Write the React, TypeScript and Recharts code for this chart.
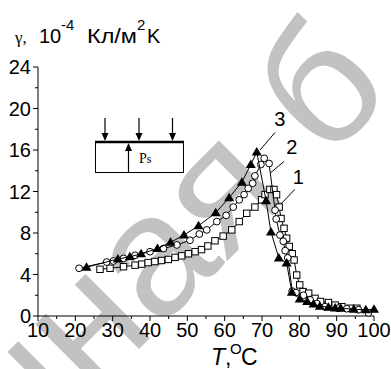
import React from 'react';
import { ComposedChart, Scatter, XAxis, YAxis, ReferenceLine, ReferenceDot } from 'recharts';

// curve 1 (open squares)
const T1 = [26.6, 29.3, 32.9, 36.0, 37.8, 39.5, 41.3, 43.1, 44.9, 46.7, 48.5, 50.3, 52.1, 53.8, 55.5, 57.4, 59.6, 61.9, 63.9, 65.9, 68.1, 69.9, 70.8, 72.1, 73.2, 73.9, 74.6, 75.1, 75.9, 76.6, 77.3, 78.1, 78.6, 79.3, 80.1, 81.0, 82.5, 84.2, 85.7, 87.8, 89.6, 91.4, 93.6, 95.4];
const G1 = [4.5, 4.6, 4.75, 4.9, 5.0, 5.15, 5.25, 5.35, 5.45, 5.65, 5.8, 6.0, 6.2, 6.4, 6.75, 7.25, 7.7, 8.3, 9.1, 9.9, 10.5, 11.2, 11.7, 12.2, 12.2, 11.7, 10.5, 9.4, 8.45, 7.5, 6.7, 6.0, 5.4, 3.95, 3.0, 2.35, 2.2, 1.7, 1.4, 1.3, 1.05, 0.9, 0.75, 0.75];

// curve 2 (open circles)
const T2 = [21, 28.4, 30.2, 32.9, 36, 40, 43.6, 47.2, 50.7, 53.2, 55.2, 57.9, 60.4, 62.3, 63.9, 65.2, 66.3, 67.5, 68.1, 69.7, 70.6, 71.9, 73.5, 73.8, 74.8, 75.7, 76.2, 76.9, 78.1, 79.1, 81.1, 82.9, 84.7, 86.9, 90.4, 92.7, 95.8, 98.5];
const G2 = [4.6, 5.2, 5.3, 5.55, 5.85, 6.2, 6.5, 6.85, 7.3, 7.9, 8.3, 9.1, 9.7, 10.5, 11.2, 11.7, 12.3, 12.8, 13.5, 14.6, 15.2, 14.7, 10.2, 9.35, 7.8, 7.2, 6.3, 5.6, 2.4, 2.25, 2.0, 1.55, 1.2, 0.9, 0.75, 0.7, 0.6, 0.3];

// curve 3 (filled triangles)
const T3 = [23, 31.4, 34.6, 37.6, 42, 45.5, 49.1, 53, 57.6, 61.2, 64.6, 67, 68.6, 71.1, 72.4, 74.5, 76.6, 78, 80.1, 82.1, 83.8, 85.5, 87.8, 89.6, 91.1, 94.6, 97.8, 100];
const G3 = [4.7, 5.5, 5.7, 6.0, 6.5, 7.1, 7.8, 8.7, 9.95, 11.4, 12.9, 14.6, 15.8, 11.1, 8.1, 5.6, 5.1, 2.3, 1.65, 1.4, 1.15, 0.95, 0.85, 0.78, 0.74, 0.65, 0.6, 0.65];

const xTicks = [10, 15, 20, 25, 30, 35, 40, 45, 50, 55, 60, 65, 70, 75, 80, 85, 90, 95, 100];
const yTicks = [0, 2, 4, 6, 8, 10, 12, 14, 16, 18, 20, 22, 24];

// curve labels with leader lines (data coords)
const labels = [
  { text: '1', at: [79.7, 13.4], from: [74.8, 10.7], to: [78.8, 12.2] },
  { text: '2', at: [78.0, 16.3], from: [72.3, 13.8], to: [75.9, 14.9] },
  { text: '3', at: [74.8, 19.0], from: [69.5, 16.0], to: [73.5, 17.7] },
];

const SANS = 'Liberation Sans, Arial, sans-serif';
const SERIF = 'Liberation Serif, Times New Roman, serif';

const pts = (t: number[], g: number[]) => t.map((v, i) => ({ t: v, g: g[i] }));

const Square = (p: any) => (
  <rect x={p.cx - 3.2} y={p.cy - 3.2} width={6.4} height={6.4} fill="#fff" stroke="#000" strokeWidth={1} />
);
const Circle = (p: any) => <circle cx={p.cx} cy={p.cy} r={3.4} fill="#fff" stroke="#000" strokeWidth={1} />;
const Triangle = (p: any) => (
  <path d={`M${p.cx},${p.cy - 5}L${p.cx + 5},${p.cy + 3.5}L${p.cx - 5},${p.cy + 3.5}Z`} fill="#000" />
);

const YTick = ({ x, y, payload }: any) => {
  const major = payload.value % 4 === 0;
  return (
    <g>
      <line x1={x - (major ? 5 : 3)} x2={x} y1={y} y2={y} stroke="#000" />
      {major && (
        <text x={x - 7} y={y + 7} textAnchor="end" fontSize={20} fontFamily={SANS} fill="#000">
          {payload.value}
        </text>
      )}
    </g>
  );
};

const XTick = ({ x, y, payload }: any) => {
  const major = payload.value % 10 === 0;
  return (
    <g>
      <line x1={x} x2={x} y1={y} y2={y + (major ? 5 : 3)} stroke="#000" />
      {major && (
        <text x={x} y={y + 21} textAnchor="middle" fontSize={20} fontFamily={SANS} fill="#000">
          {payload.value}
        </text>
      )}
    </g>
  );
};

const Arrow = ({ x, y1, y2 }: { x: number; y1: number; y2: number }) => {
  const dir = y2 > y1 ? 1 : -1;
  return (
    <g>
      <line x1={x} x2={x} y1={y1} y2={y2 - dir * 6} stroke="#000" strokeWidth={1.2} />
      <path d={`M${x - 3.5},${y2 - dir * 8}L${x + 3.5},${y2 - dir * 8}L${x},${y2}Z`} fill="#000" />
    </g>
  );
};

export default function App() {
  return (
    <div style={{ position: 'absolute', left: 0, top: 0, width: 391, height: 369, background: '#fff' }}>
      <svg style={{ position: 'absolute', left: 0, top: 0 }} width={391} height={369}>
        <text x={395} y={93} transform="rotate(-45 395 93)" textAnchor="end" fontSize={172} fontFamily={SANS} fill="#c2c2c2">
          нная б
        </text>
      </svg>
      <div style={{ position: 'absolute', left: 0, top: 0 }}>
        <ComposedChart width={391} height={369} margin={{ top: 67, right: 17, bottom: 0, left: 0 }}>
          <XAxis
            type="number"
            dataKey="t"
            domain={[10, 100]}
            ticks={xTicks}
            interval={0}
            height={53}
            tickSize={0}
            tickMargin={0}
            tickLine={false}
            axisLine={{ stroke: '#000', strokeWidth: 1 }}
            tick={XTick}
          />
          <YAxis
            type="number"
            dataKey="g"
            domain={[0, 24]}
            ticks={yTicks}
            interval={0}
            width={38}
            tickSize={0}
            tickMargin={0}
            tickLine={false}
            axisLine={{ stroke: '#000', strokeWidth: 1 }}
            tick={YTick}
          />
          <Scatter data={pts(T1, G1)} line={{ stroke: '#000', strokeWidth: 1 }} lineType="joint" shape={Square} isAnimationActive={false} />
          <Scatter data={pts(T2, G2)} line={{ stroke: '#000', strokeWidth: 1 }} lineType="joint" shape={Circle} isAnimationActive={false} />
          <Scatter data={pts(T3, G3)} line={{ stroke: '#000', strokeWidth: 1 }} lineType="joint" shape={Triangle} isAnimationActive={false} />
          {labels.map((l) => (
            <ReferenceLine
              key={'l' + l.text}
              segment={[{ x: l.from[0], y: l.from[1] }, { x: l.to[0], y: l.to[1] }]}
              stroke="#000"
              strokeWidth={1}
            />
          ))}
          {labels.map((l) => (
            <ReferenceDot
              key={'d' + l.text}
              x={l.at[0]}
              y={l.at[1]}
              r={0}
              shape={(p: any) => (
                <text x={p.cx} y={p.cy + 7} textAnchor="middle" fontSize={20} fontFamily={SANS} fill="#000">
                  {l.text}
                </text>
              )}
            />
          ))}
        </ComposedChart>
      </div>
      <svg style={{ position: 'absolute', left: 0, top: 0, pointerEvents: 'none' }} width={391} height={369}>
        <text y={43} fontSize={20} fontFamily={SANS} fill="#000">
          <tspan x={15} fontFamily={SERIF} fontSize={17}>γ,</tspan>
          <tspan x={39}>10</tspan>
          <tspan x={61} y={30} fontSize={15}>-4</tspan>
          <tspan x={87} y={43} textLength={50} lengthAdjust="spacingAndGlyphs">Кл/м</tspan>
          <tspan x={137} y={30} fontSize={15}>2</tspan>
          <tspan x={147} y={43}>K</tspan>
        </text>
        <text y={365} fontSize={23} fontFamily={SANS} fill="#000">
          <tspan x={211} fontStyle="italic">T</tspan>
          <tspan>,</tspan>
          <tspan x={230} y={354} fontSize={15}>O</tspan>
          <tspan x={241} y={365}>C</tspan>
        </text>
        {/* inset: sample with polarization Ps */}
        <rect x={95.5} y={142} width={88} height={30.5} fill="#fff" stroke="#000" strokeWidth={1} />
        <line x1={95} x2={184} y1={142} y2={142} stroke="#000" strokeWidth={2.5} />
        <Arrow x={105} y1={118} y2={141} />
        <Arrow x={139} y1={118} y2={141} />
        <Arrow x={172.5} y1={118} y2={141} />
        <Arrow x={128.5} y1={172} y2={143} />
        <text y={163} fontFamily={SERIF} fill="#000">
          <tspan x={139} fontSize={14}>P</tspan>
          <tspan fontSize={12}>s</tspan>
        </text>
      </svg>
    </div>
  );
}
